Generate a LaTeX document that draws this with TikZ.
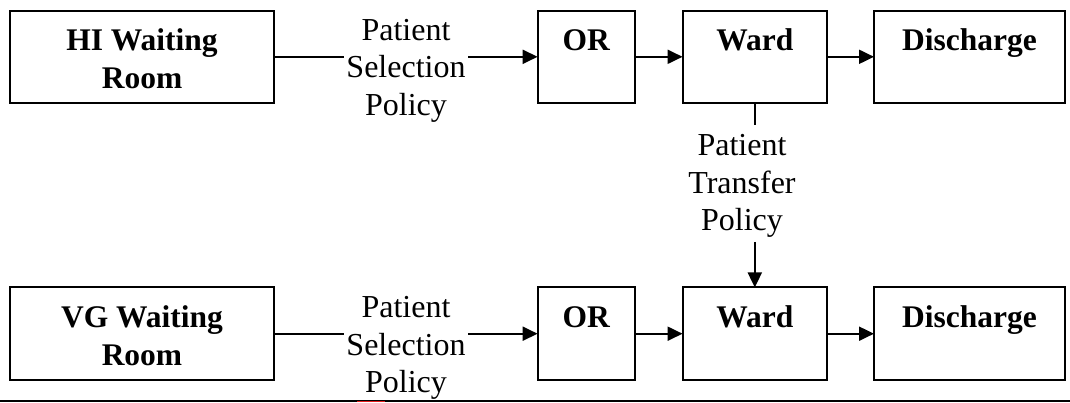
\documentclass[tikz,border=0pt]{standalone}
\usepackage{fontspec}
\setmainfont{Liberation Serif}
\usetikzlibrary{arrows.meta}

% stacked, centred lines whose baseline is that of the first line
\newcommand\stacklines[1]{\begin{tabular}[t]{@{}c@{}}#1\end{tabular}}
\definecolor{markred}{RGB}{228,28,28}

\begin{document}
\begin{tikzpicture}[x=1pt, y=-1pt,
  every node/.style={inner sep=0pt, outer sep=0pt},
  flowbox/.style={draw, line width=2pt, minimum height=92.5pt},
  boxtext/.style={anchor=base, font=\fontsize{31.5}{37.5}\selectfont\bfseries},
  policy/.style={anchor=base, inner xsep=2.5pt, font=\fontsize{32}{37.5}\selectfont},
  link/.style={line width=2pt},
  flow/.style={link, -{Triangle[length=15pt,width=14pt]}}
]
\useasboundingbox (0,0) rectangle (1070,402);

% ---- upper stream ----
\node[flowbox, minimum width=264pt]   (hi)    at (142,56.8)   {};
\node[flowbox, minimum width=97.4pt]  (or1)   at (586.3,56.8) {};
\node[flowbox, minimum width=144.5pt] (ward1) at (754.8,56.8) {};
\node[flowbox, minimum width=191pt]   (dis1)  at (969.5,56.8) {};

\node[boxtext] (hitxt)    at ([yshift=-40.4pt]hi.north)    {\stacklines{HI Waiting\\Room}};
\node[boxtext] (or1txt)   at ([yshift=-40.4pt]or1.north)   {OR};
\node[boxtext] (ward1txt) at ([yshift=-40.4pt]ward1.north) {Ward};
\node[boxtext] (dis1txt)  at ([yshift=-40.4pt]dis1.north)  {Discharge};

\node[policy] (sel1) at (406,40) {\stacklines{Patient\\Selection\\Policy}};

% ---- lower stream ----
\node[flowbox, minimum width=264pt]   (vg)    at (142,333.7)   {};
\node[flowbox, minimum width=97.4pt]  (or2)   at (586.3,333.7) {};
\node[flowbox, minimum width=144.5pt] (ward2) at (754.8,333.7) {};
\node[flowbox, minimum width=191pt]   (dis2)  at (969.5,333.7) {};

\node[boxtext] (vgtxt)    at ([yshift=-40.4pt]vg.north)    {\stacklines{VG Waiting\\Room}};
\node[boxtext] (or2txt)   at ([yshift=-40.4pt]or2.north)   {OR};
\node[boxtext] (ward2txt) at ([yshift=-40.4pt]ward2.north) {Ward};
\node[boxtext] (dis2txt)  at ([yshift=-40.4pt]dis2.north)  {Discharge};

\node[policy] (sel2) at (406,317.5) {\stacklines{Patient\\Selection\\Policy}};

% ---- transfer between the wards ----
\node[policy] (xfer) at (742,155.5) {\stacklines{Patient\\Transfer\\Policy}};
\coordinate (xfertop) at ([yshift=4.2pt]xfer.north);

% ---- connectors ----
\draw[link] (hi.east) -- (hi.east -| sel1.west);
\draw[flow] (hi.east -| sel1.east) -- (or1.west);
\draw[flow] (or1) -- (ward1);
\draw[flow] (ward1) -- (dis1);

\draw[link] (vg.east) -- (vg.east -| sel2.west);
\draw[flow] (vg.east -| sel2.east) -- (or2.west);
\draw[flow] (or2) -- (ward2);
\draw[flow] (ward2) -- (dis2);

\draw[link] (ward1.south) -- (ward1.south |- xfertop);
\draw[flow] (ward1.south |- xfer.south) -- (ward2.north);

% ---- rule along the lower edge ----
\fill (0,400) rectangle (1070,402);
\fill[markred] (357,400.7) rectangle (385,402);
\end{tikzpicture}
\end{document}
